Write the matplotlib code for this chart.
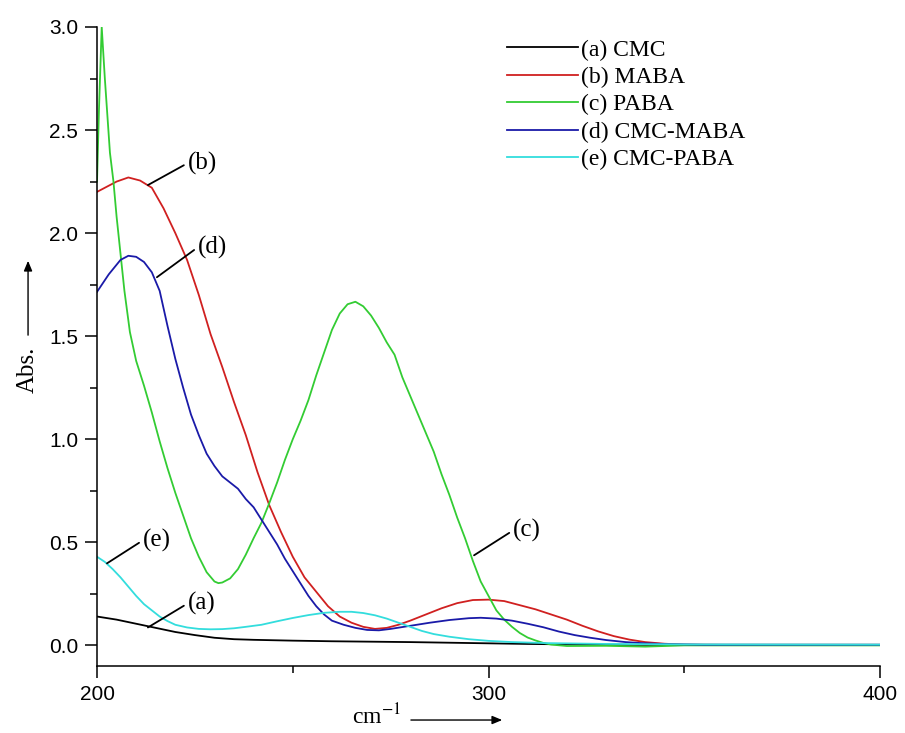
import matplotlib
matplotlib.use("Agg")
import matplotlib.pyplot as plt
from matplotlib.ticker import MultipleLocator

# wavelength (x) and absorbance values
cmc_x = [200, 205, 210, 215, 220, 225, 230, 235, 240, 250, 260, 270, 280, 290,
         300, 310, 320, 330, 350, 400]
cmc_y = [0.14, 0.125, 0.105, 0.085, 0.065, 0.05, 0.037, 0.03, 0.027, 0.023, 0.02,
         0.018, 0.016, 0.013, 0.01, 0.007, 0.005, 0.003, 0.002, 0.002]

maba_x = [200, 203, 205, 208, 211, 214, 217, 220, 223, 226, 229, 232, 235, 238,
          241, 244, 247, 250, 253, 256, 259, 262, 265, 268, 271, 274, 277, 280,
          284, 288, 292, 296, 300, 304, 308, 312, 316, 320, 324, 328, 332, 336,
          340, 345, 350, 360, 400]
maba_y = [2.20, 2.23, 2.25, 2.27, 2.255, 2.22, 2.12, 2.0, 1.87, 1.70, 1.51, 1.35,
          1.18, 1.02, 0.84, 0.68, 0.55, 0.43, 0.33, 0.26, 0.19, 0.14, 0.11, 0.09,
          0.08, 0.085, 0.10, 0.12, 0.15, 0.18, 0.205, 0.22, 0.222, 0.215, 0.195,
          0.175, 0.15, 0.125, 0.095, 0.068, 0.045, 0.028, 0.016, 0.008, 0.004,
          0.003, 0.003]

paba_x = [200, 200.5, 201.2, 202, 203.3, 204.2, 205, 206, 207, 208.4, 210, 212,
          214, 216, 218, 220, 222, 224, 226, 228, 230, 231, 232, 234, 236, 238,
          240, 242, 244, 246, 248, 250, 252, 254, 256, 258, 260, 262, 264, 266,
          268, 270, 272, 274, 276, 278, 280, 282, 284, 286, 288, 290, 292, 294,
          296, 298, 300, 302, 304, 306, 308, 310, 312, 314, 316, 320, 330, 340,
          350, 370, 400]
paba_y = [2.25, 2.6, 3.0, 2.75, 2.39, 2.25, 2.08, 1.90, 1.72, 1.52, 1.38, 1.26,
          1.13, 0.99, 0.86, 0.74, 0.63, 0.52, 0.43, 0.355, 0.31, 0.302, 0.305,
          0.325, 0.37, 0.44, 0.52, 0.595, 0.69, 0.79, 0.90, 1.0, 1.09, 1.19, 1.31,
          1.42, 1.53, 1.61, 1.655, 1.667, 1.645, 1.60, 1.54, 1.47, 1.41, 1.30,
          1.21, 1.12, 1.03, 0.94, 0.83, 0.73, 0.62, 0.52, 0.41, 0.31, 0.24, 0.17,
          0.125, 0.09, 0.06, 0.038, 0.024, 0.012, 0.004, -0.003, -0.002, -0.006,
          0.0, 0.0, 0.0]

cmc_maba_x = [200, 203, 206, 208, 210, 212, 214, 216, 218, 220, 222, 224, 226,
              228, 230, 232, 234, 236, 238, 240, 242, 244, 246, 248, 250, 252,
              254, 256, 258, 260, 263, 266, 269, 272, 275, 280, 285, 290, 295,
              298, 302, 306, 310, 314, 318, 322, 326, 330, 335, 340, 346, 355, 400]
cmc_maba_y = [1.715, 1.80, 1.87, 1.89, 1.885, 1.86, 1.81, 1.72, 1.55, 1.39, 1.25,
              1.12, 1.02, 0.93, 0.87, 0.82, 0.79, 0.76, 0.71, 0.67, 0.61, 0.55,
              0.49, 0.42, 0.36, 0.30, 0.24, 0.19, 0.15, 0.12, 0.10, 0.085, 0.075,
              0.073, 0.08, 0.095, 0.11, 0.123, 0.132, 0.134, 0.13, 0.12, 0.105,
              0.088, 0.067, 0.05, 0.037, 0.026, 0.016, 0.01, 0.006, 0.003, 0.003]

cmc_paba_x = [200, 202, 204, 206, 208, 210, 212, 214, 216, 218, 220, 223, 226,
              229, 232, 235, 238, 242, 246, 250, 254, 258, 262, 265, 268, 271,
              274, 277, 280, 283, 286, 290, 295, 300, 306, 315, 330, 350, 400]
cmc_paba_y = [0.43, 0.405, 0.37, 0.33, 0.285, 0.24, 0.20, 0.17, 0.14, 0.118, 0.10,
              0.087, 0.08, 0.078, 0.079, 0.083, 0.09, 0.10, 0.117, 0.133, 0.147,
              0.158, 0.163, 0.163, 0.157, 0.146, 0.13, 0.11, 0.09, 0.07, 0.055,
              0.042, 0.03, 0.022, 0.016, 0.011, 0.007, 0.005, 0.004]

labels = ["(a) CMC", "(b) MABA", "(c) PABA", "(d) CMC-MABA", "(e) CMC-PABA"]
colors = ["#000000", "#d02020", "#33cc33", "#1a1aa8", "#33dddd"]

fig = plt.figure(figsize=(9.05, 7.33), dpi=100)
ax = fig.add_axes([0.1072, 0.0914, 0.8652, 0.8718])

series = [(cmc_x, cmc_y), (maba_x, maba_y), (paba_x, paba_y),
          (cmc_maba_x, cmc_maba_y), (cmc_paba_x, cmc_paba_y)]
for (xs, ys), lab, col in zip(series, labels, colors):
    ax.plot(xs, ys, color=col, lw=1.3, label=lab)

ax.set_xlim(200, 400)
ax.set_ylim(-0.1, 3.0)
ax.xaxis.set_major_locator(MultipleLocator(100))
ax.xaxis.set_minor_locator(MultipleLocator(50))
ax.yaxis.set_major_locator(MultipleLocator(0.5))
ax.yaxis.set_minor_locator(MultipleLocator(0.25))
ax.yaxis.set_major_formatter(matplotlib.ticker.FormatStrFormatter("%.1f"))
ax.tick_params(which="major", direction="out", length=8.5, width=1.1,
               labelsize=15, pad=5)
ax.tick_params(which="minor", direction="out", length=5, width=1.1)
for lbl in ax.get_xticklabels() + ax.get_yticklabels():
    lbl.set_fontfamily("Liberation Sans")

for side in ["top", "right"]:
    ax.spines[side].set_visible(False)
for side in ["left", "bottom"]:
    ax.spines[side].set_linewidth(1.1)

serif = "Liberation Serif"
leg = ax.legend(loc="upper left", bbox_to_anchor=(0.524, 0.981), frameon=False,
                prop={"family": serif, "size": 17}, handlelength=3.0,
                handletextpad=0.1, labelspacing=0.25, borderpad=0, borderaxespad=0)

# curve labels with leader lines
tags = [("(a)", (213.0, 0.087), (223.2, 0.204)),
        ("(b)", (213.0, 2.233), (223.2, 2.34)),
        ("(c)", (296.3, 0.437), (306.3, 0.558)),
        ("(d)", (215.3, 1.786), (225.8, 1.932)),
        ("(e)", (202.55, 0.398), (211.75, 0.51))]
for txt, xy, xyt in tags:
    ax.annotate(txt, xy=xy, xytext=xyt, ha="left", va="center",
                fontfamily=serif, fontsize=18,
                arrowprops=dict(arrowstyle="-", color="black", lw=1.3,
                                relpos=(0, 0.5), shrinkA=1, shrinkB=0))

# axis labels with arrows
fig.text(0.031, 0.495, "Abs.", rotation=90, ha="center", va="center",
         fontfamily=serif, fontsize=18)
fig.patches.append(matplotlib.patches.FancyArrowPatch(
    (0.031, 0.539), (0.031, 0.648), transform=fig.transFigure,
    arrowstyle="-|>,head_length=6,head_width=2.5", color="black", lw=1))
fig.text(0.4166, 0.022, "cm$^{-1}$", ha="center", va="center",
         fontfamily=serif, fontsize=17, math_fontfamily="stix")
fig.patches.append(matplotlib.patches.FancyArrowPatch(
    (0.451, 0.0177), (0.558, 0.0177), transform=fig.transFigure,
    arrowstyle="-|>,head_length=6,head_width=2.5", color="black", lw=1))

fig.savefig("out.png", dpi=100)
